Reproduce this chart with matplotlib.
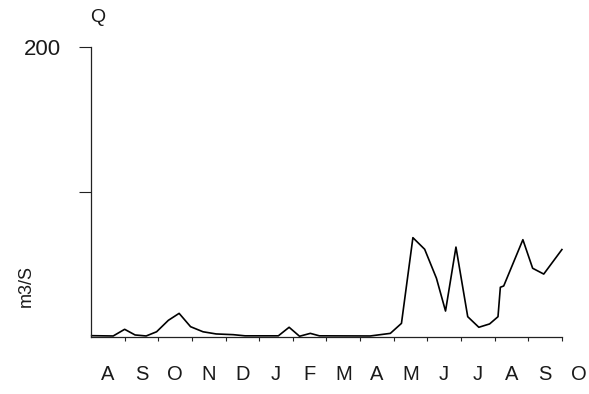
import numpy as np
import matplotlib
matplotlib.use("Agg")
import matplotlib.pyplot as plt
from matplotlib.transforms import blended_transform_factory

# time in months from start of August, discharge in m3/s
months = [0.02, 0.66, 1.0, 1.31, 1.64, 1.95, 2.30, 2.62, 2.96, 3.33, 3.72,
          4.23, 4.58, 5.57, 5.89, 6.20, 6.52, 6.79, 8.30, 8.90, 9.23, 9.57,
          9.92, 10.27, 10.54, 10.85, 11.20, 11.53, 11.85, 12.10, 12.17,
          12.27, 12.84, 13.13, 13.46, 14.0]
flow = [0.9, 0.7, 5.3, 1.4, 0.7, 3.6, 11.5, 16.3, 7.1, 3.6, 2.1,
        1.6, 0.8, 0.8, 6.7, 0.5, 2.5, 0.8, 0.7, 2.5, 9.4, 68.5,
        60.5, 40.5, 17.9, 62.0, 14.0, 6.7, 9.0, 14.0, 34.3,
        35.2, 67.1, 47.4, 43.4, 60.3]
month_labels = ["A", "S", "O", "N", "D", "J", "F", "M", "A", "M", "J",
                "J", "A", "S", "O"]
yticks = [100, 200]
ytick_labels = ["", "200"]

txt = "#1a1a1a"
plt.rcParams['font.family'] = ['Liberation Sans', 'DejaVu Sans']

fig = plt.figure(figsize=(5.89, 3.94), dpi=100)
ax = fig.add_axes([0.1545, 0.1447, 0.954 - 0.1545, 0.8807 - 0.1447])

ax.plot(months, flow, color="black", lw=1.2, clip_on=False)

ax.set_xlim(0, 14)
ax.set_ylim(0, 200)
ax.spines["top"].set_visible(False)
ax.spines["right"].set_visible(False)
for s in ["left", "bottom"]:
    ax.spines[s].set_linewidth(0.9)
    ax.spines[s].set_color("#222222")

ax.set_xticks(np.arange(1, 15))
ax.set_xticklabels([])
ax.tick_params(axis="x", direction="out", length=3, width=0.8, color="#222222")

ax.set_yticks(yticks)
ax.set_yticklabels(ytick_labels, fontsize=16, color=txt)
ax.tick_params(axis="y", direction="out", length=8.5, width=0.8,
               color="#222222", pad=13)

trans = blended_transform_factory(ax.transData, ax.transAxes)
for i, lab in enumerate(month_labels):
    ax.text(i + 0.5, -0.13, lab, transform=trans, ha="center", va="center",
            fontsize=14.5, color=txt, clip_on=False)

fig.text(26 / 589, 1 - 286 / 394, "m3/S", rotation=90, ha="center",
         va="center", fontsize=13, color=txt)
fig.text(98 / 589, 1 - 17 / 394, "Q", ha="center", va="center",
         fontsize=14, color=txt)

fig.savefig("out.png", dpi=100, facecolor="white")
